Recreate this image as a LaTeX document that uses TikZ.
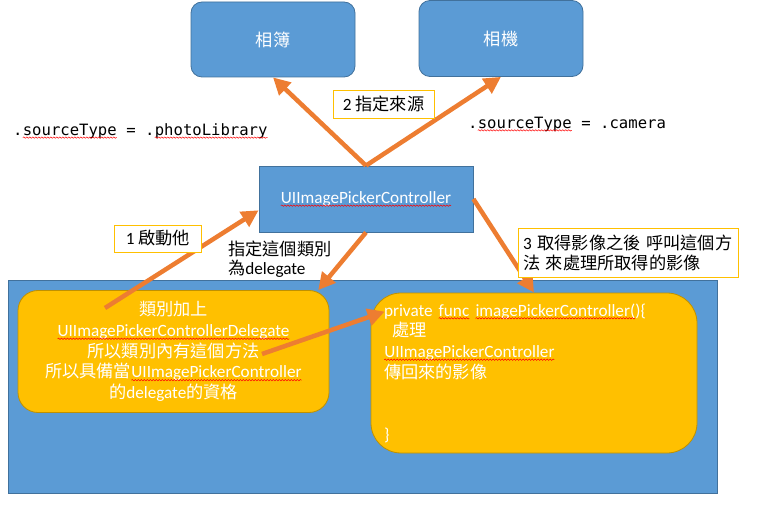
\documentclass[tikz,border=0pt]{standalone}
\usepackage{fontspec}
\setmainfont{Carlito}
\setmonofont{DejaVu Sans Mono}
\newfontfamily\zh{Noto Sans CJK TC}
\usetikzlibrary{arrows.meta,calc,decorations.pathmorphing}

\definecolor{boxblue}{HTML}{5B9BD5}
\definecolor{boxblueline}{HTML}{41719C}
\definecolor{gold}{HTML}{FFC000}
\definecolor{goldline}{HTML}{BF9000}
\definecolor{arrorange}{HTML}{ED7D31}

\tikzset{
  bluebox/.style={draw=boxblueline, fill=boxblue, text=white, inner sep=0pt, line width=0.8pt},
  goldbox/.style={draw=goldline, fill=gold, text=white, inner sep=0pt, rounded corners=20pt, line width=0.8pt},
  tag/.style={draw=gold, fill=white, text=black, inner sep=0pt, line width=0.8pt},
  flow/.style={draw=arrorange, line width=4.5pt, -{Triangle[length=17pt,width=17pt]}},
  code/.style={font=\ttfamily\fontsize{15.6}{18}\selectfont, inner sep=0pt, anchor=west},
  word/.style={draw=none, fill=none, inner sep=0pt, outer sep=0pt, text width={}, align=center,
    rounded corners=0pt, minimum width=0pt, minimum height=0pt, anchor=base},
}

% red wavy underline of the spell checker
\newcommand{\spell}[1]{\tikz[baseline=(w.base)]{\node[word] (w) at (0,0) {#1};
  \draw[red, line width=0.5pt, rounded corners=0pt, decorate, decoration={snake, amplitude=0.7pt, segment length=3pt}]
    ([yshift=-2.3pt]w.base west) -- ([yshift=-2.3pt]w.base east);}}

\begin{document}
\begin{tikzpicture}[x=1pt, y=-1pt, font=\fontsize{17.2}{20.7}\selectfont]
	\useasboundingbox (0,0) rectangle (758,505);

	% sources
	\node [bluebox, rounded corners=11pt, minimum width=164pt, minimum height=75pt] (album) at (273,39.5) {\zh 相簿};
	\node [bluebox, rounded corners=11pt, minimum width=164pt, minimum height=76pt] (camera) at (501,38.5) {\zh 相機};
	\node [code] (libtype) at (13,131) {.\spell{sourceType} = .\spell{photoLibrary}};
	\node [code] (camtype) at (468,124) {.\spell{sourceType} = .camera};

	\node [bluebox, minimum width=214pt, minimum height=66pt] (picker) at (366,199) {\spell{UIImagePickerController}};

	% the class
	\node [bluebox, minimum width=709pt, minimum height=213pt] (holder) at (362.5,386.5) {};
	\node [goldbox, minimum width=311pt, minimum height=122pt, align=center] (delegate) at (173.5,351.5)
		{{\zh 類別加上}\\ \spell{UIImagePickerControllerDelegate}\\ {\zh 所以類別內有這個方法}\\
		 {\zh 所以具備當}\spell{UIImagePickerController}\\ {\zh 的}delegate{\zh 的資格}};
	\node [goldbox, rounded corners=30pt, minimum width=326pt, minimum height=160pt, text width=300pt, align=left] (handler) at (534,373)
		{private \spell{func} \spell{imagePickerController(}){\{}\\ \hspace{8pt}{\zh 處理}\\
		 \spell{UIImagePickerController}\\ {\zh 傳回來的影像}\\ \mbox{}\\ \mbox{}\\ \}};

	\coordinate (launch) at (105,308);
	\coordinate (callfrom) at (262,354);

	\draw [flow] (launch) -- (picker.186);
	\draw [flow] (picker.north) -- (album.south);
	\draw [flow] (picker.north) -- (camera.south);
	\draw [flow] (picker.south) -- (delegate.23);
	\draw [flow] (picker.east) -- (handler.north);
	\draw [flow] (callfrom) -- ($(handler.north west)+(14,19)$);

	% steps
	\node [tag, minimum width=101pt, minimum height=28pt] (step2) at (383.5,104) {2 {\zh 指定來源}};
	\node [tag, minimum width=87pt, minimum height=27pt] (step1) at (158,238.5) {1 {\zh 啟動他}};
	\node [tag, minimum width=220pt, minimum height=49pt, text width=210pt, align=left, font=\fontsize{17.2}{20}\selectfont] (step3) at (628,252.5)
		{3 {\zh 取得影像之後 呼叫這個方}\\{\zh 法 來處理所取得的影像}};
	\node [anchor=north west, align=left, inner sep=0pt, font=\fontsize{17.2}{19}\selectfont] (assign) at (228,241)
		{{\zh 指定這個類別}\\{\zh 為}delegate};
\end{tikzpicture}
\end{document}
